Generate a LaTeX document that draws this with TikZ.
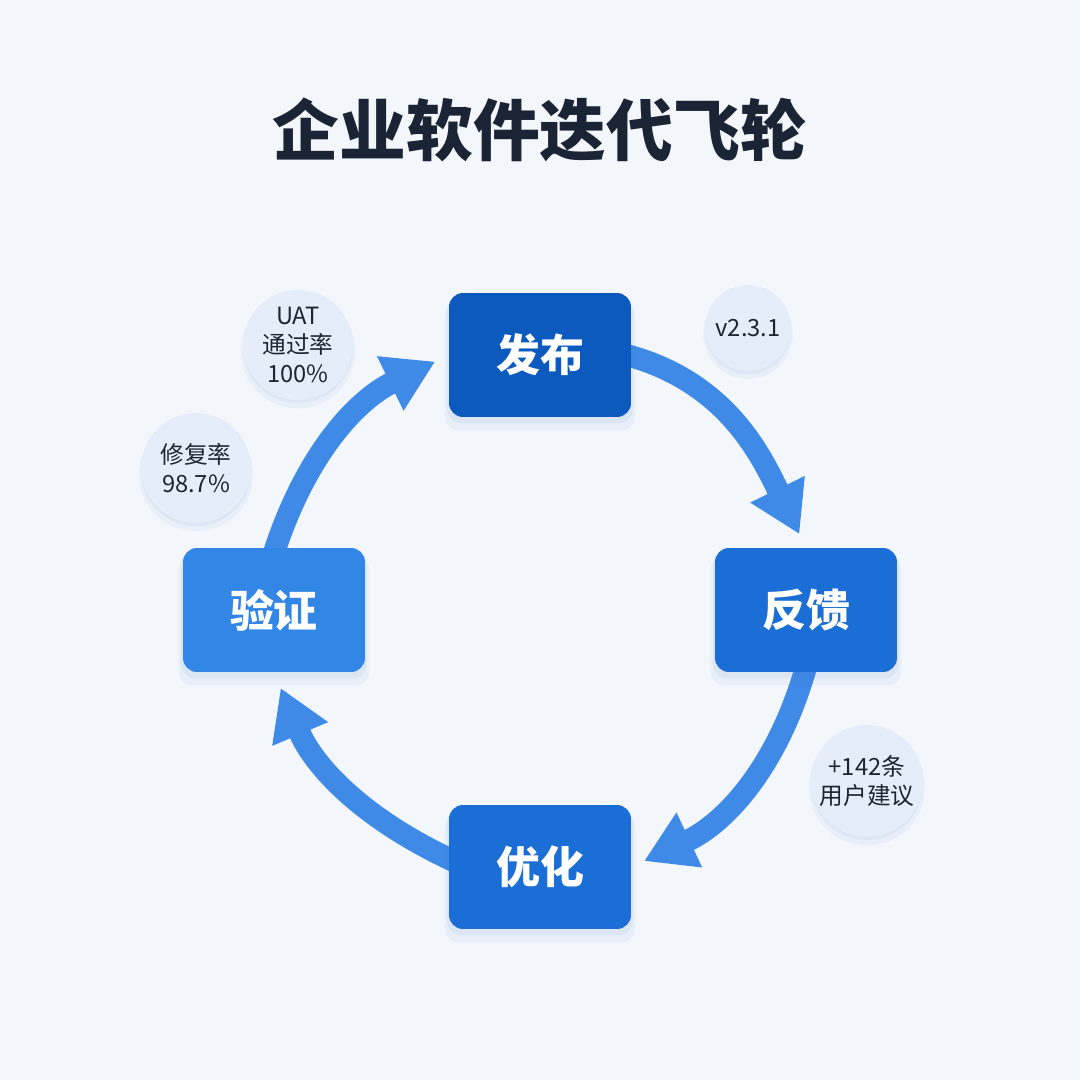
\documentclass[tikz,border=0pt]{standalone}
\usepackage{fontspec}
\setmainfont{Noto Sans CJK SC}
\usepackage{tikz}
\usetikzlibrary{
    arrows.meta,
    shadows,
    backgrounds
}
\definecolor{BgGray}{RGB}{243,247,251}
\definecolor{TitleInk}{RGB}{27,36,52}
\definecolor{StageDark}{RGB}{12,90,190}
\definecolor{StageMid}{RGB}{26,110,214}
\definecolor{StageLight}{RGB}{50,134,229}
\definecolor{FlowBlue}{RGB}{62,138,230}
\definecolor{BubbleFill}{RGB}{228,237,249}
\definecolor{BubbleInk}{RGB}{30,38,50}
\definecolor{ShadeBlue}{RGB}{70,120,200}
\tikzset{
  stage/.style  = {rounded corners=0.28cm, minimum width=3.64cm,
                   minimum height=2.48cm, align=center, text=white,
                   font=\fontsize{25}{28}\selectfont\bfseries,
                   drop shadow={shadow xshift=0cm, shadow yshift=-0.2cm,
                                shadow scale=1.05, opacity=0.06, fill=ShadeBlue},
                   drop shadow={shadow xshift=0cm, shadow yshift=-0.1cm,
                                shadow scale=1.02, opacity=0.08, fill=ShadeBlue}},
  bubble/.style = {circle, fill=BubbleFill, minimum size=2.2cm, inner sep=0pt,
                   align=center, text=BubbleInk,
                   font=\fontsize{13.5}{16.4}\selectfont,
                   drop shadow={shadow xshift=0cm, shadow yshift=-0.12cm,
                                shadow scale=1.04, opacity=0.06, fill=ShadeBlue},
                   drop shadow={shadow xshift=0cm, shadow yshift=-0.06cm,
                                opacity=0.07, fill=ShadeBlue}},
  flow/.style   = {-{Triangle[width=1.14cm, length=1.0cm]},
                   line width=0.44cm, FlowBlue}
}

\begin{document}
\begin{tikzpicture}[
    x=0.02cm, y=0.02cm,
    heading/.style={font=\fontsize{38}{42}\selectfont\bfseries, text=TitleInk}
]
\node[heading] (title) at (540,950) {企业软件迭代飞轮};

\node[stage, fill=StageDark]  (s1) at (540,725) {发布};
\node[stage, fill=StageMid]   (s2) at (806,470) {反馈};
\node[stage, fill=StageMid]   (s3) at (540,213) {优化};
\node[stage, fill=StageLight] (s4) at (274,470) {验证};

\node[bubble] (b1) at (298,735) {UAT\\通过率\\100\%};
\node[bubble] (b2) at (196,612) {修复率\\98.7\%};
\node[bubble, minimum size=1.72cm] (b3) at (748,752) {v2.3.1};
\node[bubble, minimum size=2.24cm] (b4) at (867,299) {+142条\\用户建议};

\begin{scope}[on background layer]
\fill[BgGray] (0,0) rectangle (1080,1080);
% the four steps of the loop
\draw[flow, shorten >=0.3cm] ([xshift=-0.1cm]s1.east) to[out=-15, in=116] (s2.north);
\draw[flow, shorten >=0.28cm] ([yshift=0.1cm]s2.south) to[out=-106, in=25] (s3.east);
\draw[flow, shorten >=0.34cm] ([xshift=0.1cm, yshift=0.12cm]s3.west) to[out=155, in=-67] (s4.south);
\draw[flow, shorten >=0.3cm] ([yshift=-0.1cm]s4.north) to[out=72, in=206] (s1.west);
\end{scope}
\end{tikzpicture}
\end{document}
